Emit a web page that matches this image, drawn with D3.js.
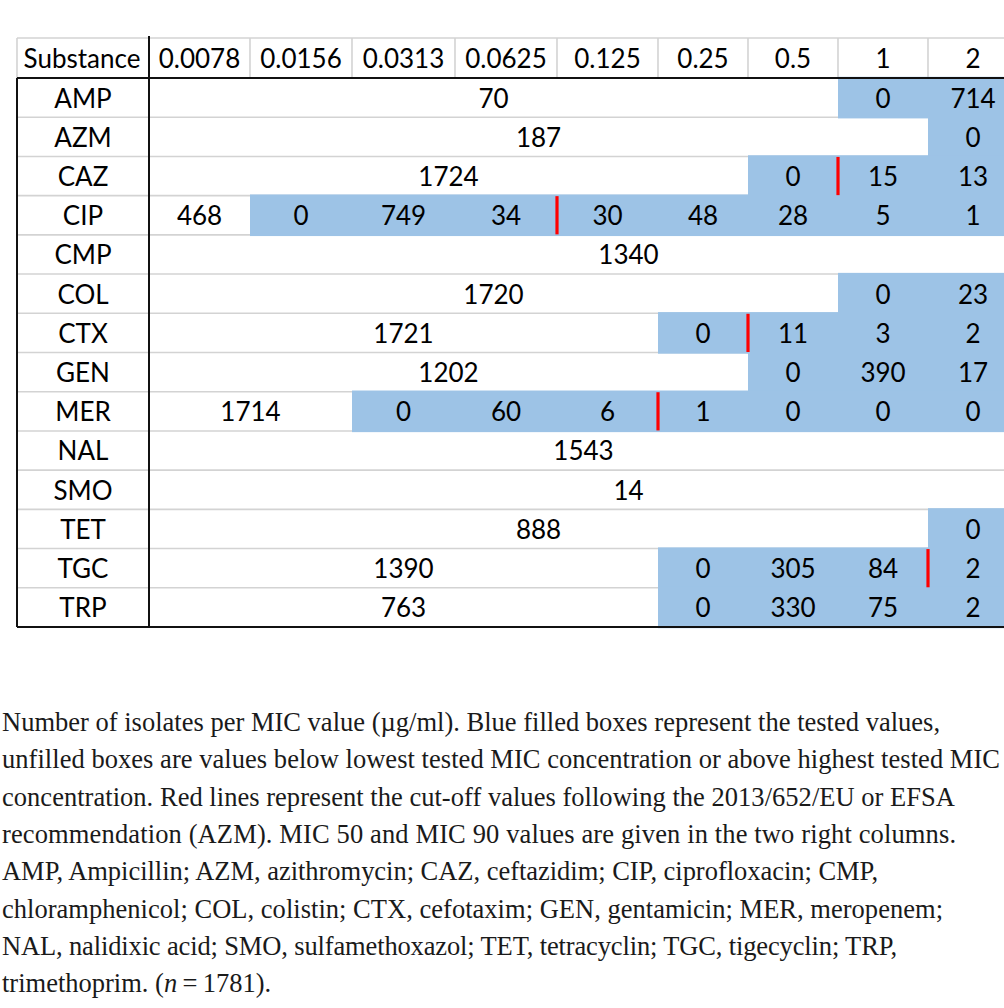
<!DOCTYPE html>
<html>
<head>
<meta charset="utf-8">
<script src="https://cdn.jsdelivr.net/npm/d3@7"></script>
<style>
  html, body { margin: 0; padding: 0; background: #fff; }
  svg { display: block; }
</style>
</head>
<body>
<svg id="chart" width="1004" height="1008"></svg>
<script>
// ---------------- DATA ----------------
const concentrations = ["0.0078", "0.0156", "0.0313", "0.0625", "0.125", "0.25", "0.5", "1", "2"];
const substances = ["AMP", "AZM", "CAZ", "CIP", "CMP", "COL", "CTX", "GEN", "MER", "NAL", "SMO", "TET", "TGC", "TRP"];
const headerLabel = "Substance";

// each cell: [number of isolates, first column index, columns spanned, tested (1) / untested (0)]
const cellsAMP = [[70, 0, 7, 0], [0, 7, 1, 1], [714, 8, 1, 1]];
const cellsAZM = [[187, 0, 8, 0], [0, 8, 1, 1]];
const cellsCAZ = [[1724, 0, 6, 0], [0, 6, 1, 1], [15, 7, 1, 1], [13, 8, 1, 1]];
const cellsCIP = [[468, 0, 1, 0], [0, 1, 1, 1], [749, 2, 1, 1], [34, 3, 1, 1], [30, 4, 1, 1], [48, 5, 1, 1], [28, 6, 1, 1], [5, 7, 1, 1], [1, 8, 1, 1]];
const cellsCMP = [[1340, 0, 10, 0]];
const cellsCOL = [[1720, 0, 7, 0], [0, 7, 1, 1], [23, 8, 1, 1]];
const cellsCTX = [[1721, 0, 5, 0], [0, 5, 1, 1], [11, 6, 1, 1], [3, 7, 1, 1], [2, 8, 1, 1]];
const cellsGEN = [[1202, 0, 6, 0], [0, 6, 1, 1], [390, 7, 1, 1], [17, 8, 1, 1]];
const cellsMER = [[1714, 0, 2, 0], [0, 2, 1, 1], [60, 3, 1, 1], [6, 4, 1, 1], [1, 5, 1, 1], [0, 6, 1, 1], [0, 7, 1, 1], [0, 8, 1, 1]];
const cellsNAL = [[1543, 0, 9, 0]];
const cellsSMO = [[14, 0, 10, 0]];
const cellsTET = [[888, 0, 8, 0], [0, 8, 1, 1]];
const cellsTGC = [[1390, 0, 5, 0], [0, 5, 1, 1], [305, 6, 1, 1], [84, 7, 1, 1], [2, 8, 1, 1]];
const cellsTRP = [[763, 0, 5, 0], [0, 5, 1, 1], [330, 6, 1, 1], [75, 7, 1, 1], [2, 8, 1, 1]];

// red cut-off lines: substance and index of the column immediately right of the cut-off
const cutoffSubstances = ["CAZ", "CIP", "CTX", "MER", "TGC"];
const cutoffColumns = [7, 4, 6, 5, 8];

const captionLines = [
  "Number of isolates per MIC value (µg/ml). Blue filled boxes represent the tested values,",
  "unfilled boxes are values below lowest tested MIC concentration or above highest tested MIC",
  "concentration. Red lines represent the cut-off values following the 2013/652/EU or EFSA",
  "recommendation (AZM). MIC 50 and MIC 90 values are given in the two right columns.",
  "AMP, Ampicillin; AZM, azithromycin; CAZ, ceftazidim; CIP, ciprofloxacin; CMP,",
  "chloramphenicol; COL, colistin; CTX, cefotaxim; GEN, gentamicin; MER, meropenem;",
  "NAL, nalidixic acid; SMO, sulfamethoxazol; TET, tetracyclin; TGC, tigecyclin; TRP,"
];
const captionLastPre = "trimethoprim. (";
const captionLastItalic = "n";
const captionLastPost = "\u2009=\u20091781).";

// ---------------- LAYOUT ----------------
const rowCells = {
  AMP: cellsAMP, AZM: cellsAZM, CAZ: cellsCAZ, CIP: cellsCIP, CMP: cellsCMP,
  COL: cellsCOL, CTX: cellsCTX, GEN: cellsGEN, MER: cellsMER, NAL: cellsNAL,
  SMO: cellsSMO, TET: cellsTET, TGC: cellsTGC, TRP: cellsTRP
};
const layout = {
  left: 17, labelRight: 149, right: 1004,
  headerTop: 38, headerBottom: 78, bottom: 627,
  colEdges: [149, 250, 352, 455, 557, 658, 748, 838, 928, 1018],
  captionX: 2, captionBaseline: 731, captionStep: 37.3,
  captionWidths: [938, 998, 953, 954, 876, 941, 895]
};
const colors = { tested: "#9DC3E6", grid: "#D3D3D3", border: "#111", cut: "#FF0000", text: "#000" };
const tableFont = "Lato, 'Open Sans', sans-serif";
const captionFont = "'Liberation Serif', 'DejaVu Serif', serif";

const svg = d3.select("#chart");

// column edge scale (piecewise linear; extrapolates for merged cells running past the crop)
const xEdge = d3.scaleLinear().domain(d3.range(layout.colEdges.length)).range(layout.colEdges);
const yRow = d3.scaleBand().domain(substances).range([layout.headerBottom, layout.bottom]).padding(0);

const cells = [];
substances.forEach(s => {
  rowCells[s].forEach(c => cells.push({ sub: s, value: c[0], start: c[1], span: c[2], tested: !!c[3] }));
});

// light grey grid lines between rows
const gridG = svg.append("g");
substances.slice(1).forEach(s => {
  gridG.append("line")
    .attr("x1", layout.left).attr("x2", layout.right)
    .attr("y1", yRow(s)).attr("y2", yRow(s))
    .attr("stroke", colors.grid).attr("stroke-width", 1.6);
});
// header grid
gridG.append("line")
  .attr("x1", layout.left).attr("x2", layout.right)
  .attr("y1", layout.headerTop).attr("y2", layout.headerTop)
  .attr("stroke", colors.grid).attr("stroke-width", 1.6);
gridG.append("line")
  .attr("x1", layout.left).attr("x2", layout.left)
  .attr("y1", layout.headerTop).attr("y2", layout.headerBottom)
  .attr("stroke", colors.grid).attr("stroke-width", 1.6);
concentrations.slice(1).forEach((c, i) => {
  gridG.append("line")
    .attr("x1", xEdge(i + 1)).attr("x2", xEdge(i + 1))
    .attr("y1", layout.headerTop).attr("y2", layout.headerBottom)
    .attr("stroke", colors.grid).attr("stroke-width", 1.6);
});

// tested (blue) cells
svg.append("g").selectAll("rect")
  .data(cells.filter(d => d.tested))
  .join("rect")
  .attr("x", d => xEdge(d.start))
  .attr("width", d => xEdge(d.start + d.span) - xEdge(d.start))
  .attr("y", d => yRow(d.sub) - 1.2)
  .attr("height", yRow.bandwidth() + 2.4)
  .attr("fill", colors.tested);

// red cut-off lines
svg.append("g").selectAll("line")
  .data(cutoffSubstances.map((s, i) => ({ sub: s, col: cutoffColumns[i] })))
  .join("line")
  .attr("x1", d => xEdge(d.col)).attr("x2", d => xEdge(d.col))
  .attr("y1", d => yRow(d.sub) + 0.5)
  .attr("y2", d => yRow(d.sub) + yRow.bandwidth() - 0.5)
  .attr("stroke", colors.cut).attr("stroke-width", 3.2);

// black borders
const bG = svg.append("g").attr("stroke", colors.border).attr("stroke-width", 2);
bG.append("line").attr("x1", layout.left).attr("x2", layout.right)
  .attr("y1", layout.headerBottom).attr("y2", layout.headerBottom);
bG.append("line").attr("x1", layout.left).attr("x2", layout.right)
  .attr("y1", layout.bottom).attr("y2", layout.bottom);
bG.append("line").attr("x1", layout.left).attr("x2", layout.left)
  .attr("y1", layout.headerBottom).attr("y2", layout.bottom);
bG.append("line").attr("x1", layout.labelRight).attr("x2", layout.labelRight)
  .attr("y1", layout.headerTop - 2).attr("y2", layout.bottom);

// header texts
const tG = svg.append("g").attr("font-family", tableFont).attr("font-size", 26)
  .attr("fill", colors.text).attr("text-anchor", "middle");
tG.append("text").attr("x", (layout.left + layout.labelRight) / 2 - 1)
  .attr("y", layout.headerTop + 30).text(headerLabel);
tG.selectAll("text.col").data(concentrations).join("text").attr("class", "col")
  .attr("x", (d, i) => (xEdge(i) + xEdge(i + 1)) / 2)
  .attr("y", layout.headerTop + 30).text(d => d);

// substance labels
tG.selectAll("text.sub").data(substances).join("text").attr("class", "sub")
  .attr("x", (layout.left + layout.labelRight) / 2)
  .attr("y", d => yRow(d) + 29.5).text(d => d);

// cell values
tG.selectAll("text.val").data(cells).join("text").attr("class", "val")
  .attr("x", d => (xEdge(d.start) + xEdge(d.start + d.span)) / 2)
  .attr("y", d => yRow(d.sub) + 29.5).text(d => d.value);

// caption
const cG = svg.append("g").attr("font-family", captionFont).attr("font-size", 26.5).attr("fill", "#1a1a1a");
captionLines.forEach((line, i) => {
  cG.append("text")
    .attr("x", layout.captionX)
    .attr("y", layout.captionBaseline + i * layout.captionStep)
    .attr("textLength", layout.captionWidths[i])
    .attr("lengthAdjust", "spacing")
    .text(line);
});
const last = cG.append("text")
  .attr("x", layout.captionX)
  .attr("y", layout.captionBaseline + captionLines.length * layout.captionStep);
last.append("tspan").text(captionLastPre);
last.append("tspan").attr("font-style", "italic").text(captionLastItalic);
last.append("tspan").text(captionLastPost);
</script>
</body>
</html>
